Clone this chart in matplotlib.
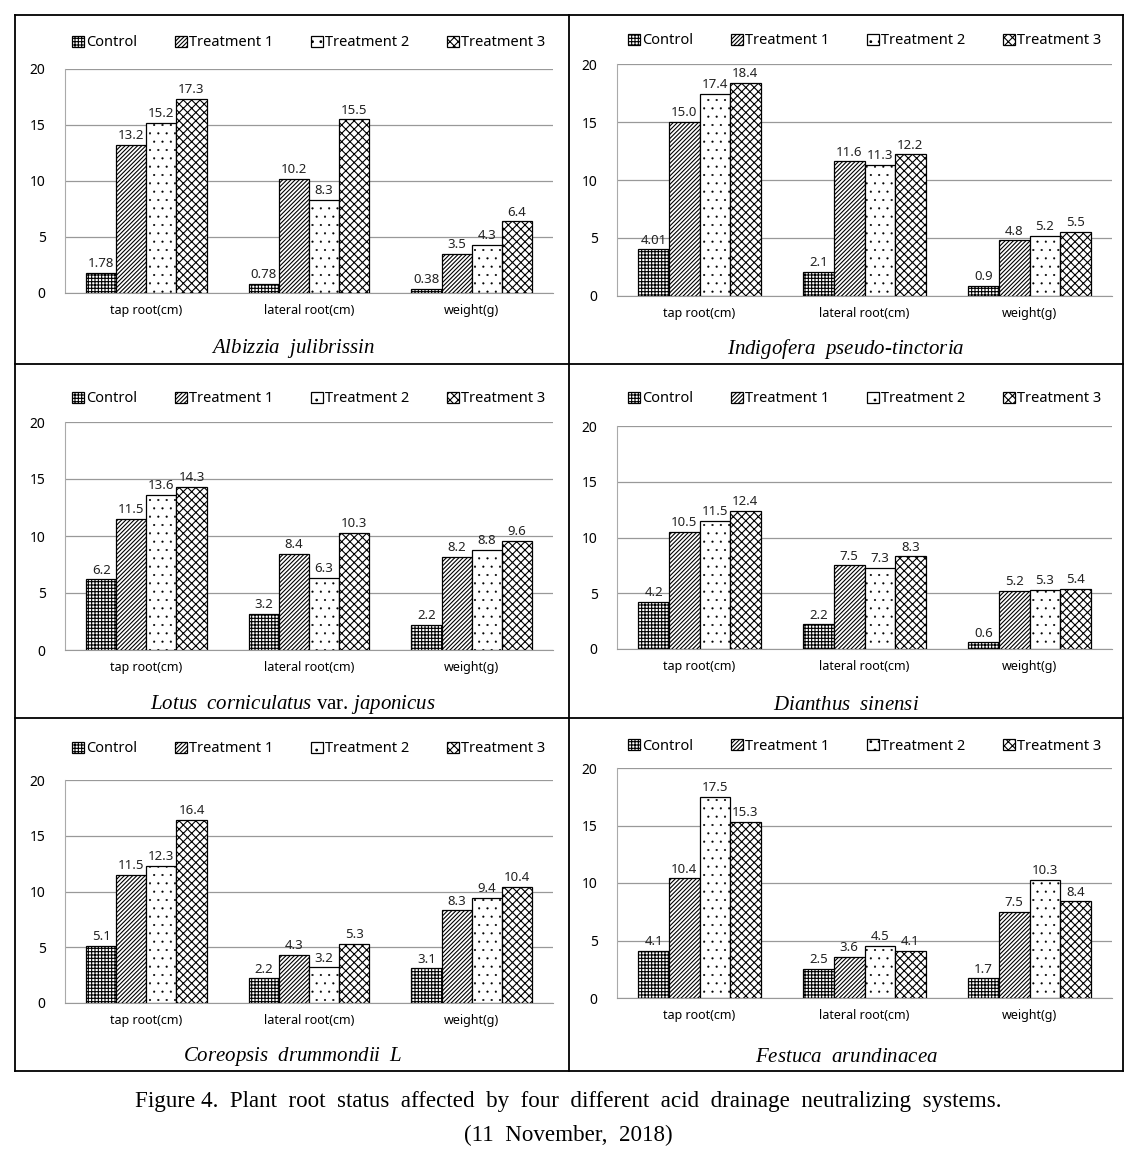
"""Plant root status under four acid drainage neutralizing systems (6 panels)."""
import matplotlib
import numpy as np

matplotlib.use('Agg')
import matplotlib.pyplot as plt
from matplotlib.lines import Line2D

plt.rcParams['mathtext.fontset'] = 'custom'
plt.rcParams['mathtext.it'] = 'Liberation Serif:italic'
plt.rcParams['mathtext.rm'] = 'Liberation Serif'

categories = ['tap root(cm)', 'lateral root(cm)', 'weight(g)']
series_names = ['Control', 'Treatment 1', 'Treatment 2', 'Treatment 3']

albizzia = [[1.78, 0.78, 0.38], [13.2, 10.2, 3.5], [15.2, 8.3, 4.3], [17.3, 15.5, 6.4]]
indigofera = [[4.01, 2.1, 0.9], [15.0, 11.6, 4.8], [17.4, 11.3, 5.2], [18.4, 12.2, 5.5]]
lotus = [[6.2, 3.2, 2.2], [11.5, 8.4, 8.2], [13.6, 6.3, 8.8], [14.3, 10.3, 9.6]]
dianthus = [[4.2, 2.2, 0.6], [10.5, 7.5, 5.2], [11.5, 7.3, 5.3], [12.4, 8.3, 5.4]]
coreopsis = [[5.1, 2.2, 3.1], [11.5, 4.3, 8.3], [12.3, 3.2, 9.4], [16.4, 5.3, 10.4]]
festuca = [[4.1, 2.5, 1.7], [10.4, 3.6, 7.5], [17.5, 4.5, 10.3], [15.3, 4.1, 8.4]]

species = [
    r'$\it{Albizzia\ \ julibrissin}$',
    r'$\it{Indigofera\ \ pseudo}$-$\it{tinctoria}$',
    r'$\it{Lotus\ \ corniculatus}$ var. $\it{japonicus}$',
    r'$\it{Dianthus\ \ sinensi}$',
    r'$\it{Coreopsis\ \ drummondii\ \ L}$',
    r'$\it{Festuca\ \ arundinacea}$',
]
datasets = [albizzia, indigofera, lotus, dianthus, coreopsis, festuca]

hatches = ['+++++', '////////', '..', 'xxxx']
hatch_lw = [0.8, 0.8, 0.3, 0.8]

W, H = 1143, 1155
fig = plt.figure(figsize=(W / 100, H / 100), dpi=100)

# axes boxes in pixels: left, right, y of 0, y of 20
boxes = [
    (65, 553, 293, 69), (617, 1112, 296, 64),
    (65, 553, 650, 422), (617, 1112, 649, 426),
    (65, 553, 1003, 780), (617, 1112, 998, 768),
]
title_y = [349, 349, 705, 705, 1057, 1057]
legend_y = [43, 41, 399, 399, 749, 746]


def fmt(v):
    return f'{v:.2f}' if round(v, 1) != v else f'{v:.1f}'


x = np.arange(len(categories))
bw = 0.185
for k, (data, (l, r, y0, y20)) in enumerate(zip(datasets, boxes)):
    ax = fig.add_axes([l / W, 1 - y0 / H, (r - l) / W, (y0 - y20) / H])
    for i, vals in enumerate(data):
        plt.rcParams['hatch.linewidth'] = hatch_lw[i]
        bars = ax.bar(x + (i - 1.5) * bw, vals, bw, color='white', edgecolor='black',
                      linewidth=0.9, hatch=hatches[i], label=series_names[i], zorder=3)
        ax.bar_label(bars, labels=[fmt(v) for v in vals], padding=2, fontsize=9.5,
                     color='#222222', family='Noto Sans')
    ax.set_ylim(0, 20)
    ax.set_xlim(-0.5, 2.5)
    ax.set_yticks([0, 5, 10, 15, 20])
    ax.set_xticks(x)
    ax.set_xticklabels(categories, fontsize=9, family='Noto Sans')
    ax.tick_params(axis='y', labelsize=10, length=0, pad=14)
    ax.tick_params(axis='x', length=0, pad=8)
    for lab in ax.get_yticklabels():
        lab.set_family('Noto Sans')
    ax.grid(axis='y', color='#999999', linewidth=0.9, zorder=0)
    for s in ['top', 'right']:
        ax.spines[s].set_visible(False)
    ax.spines['left'].set_color('#aaaaaa')
    ax.spines['bottom'].set_color('#999999')
    ly = (y0 - legend_y[k]) / (y0 - y20)
    ax.legend(loc='center', bbox_to_anchor=(0.5, ly), ncol=4, frameon=False,
              handlelength=0.8, handleheight=0.8, handletextpad=0.15,
              columnspacing=2.6, prop={'family': 'Noto Sans', 'size': 10.5})
    cx = 293 if k % 2 == 0 else 846
    fig.text(cx / W, 1 - title_y[k] / H, species[k], ha='center', va='center',
             fontsize=15, family='Liberation Serif')

# table lines
lw = 1.3
for y in [15, 364, 718, 1071]:
    fig.add_artist(Line2D([15 / W, 1123 / W], [1 - y / H, 1 - y / H], color='black', lw=lw))
for xx in [15, 569, 1123]:
    fig.add_artist(Line2D([xx / W, xx / W], [1 - 15 / H, 1 - 1071 / H], color='black', lw=lw))

fig.text(568 / W, 1 - 1101 / H,
         'Figure 4.  Plant  root  status  affected  by  four  different  acid  drainage  neutralizing  systems.',
         ha='center', va='center', fontsize=16.6, family='Liberation Serif')
fig.text(568 / W, 1 - 1135 / H, '(11  November,  2018)', ha='center', va='center',
         fontsize=16.6, family='Liberation Serif')

fig.savefig('out.png', dpi=100)
